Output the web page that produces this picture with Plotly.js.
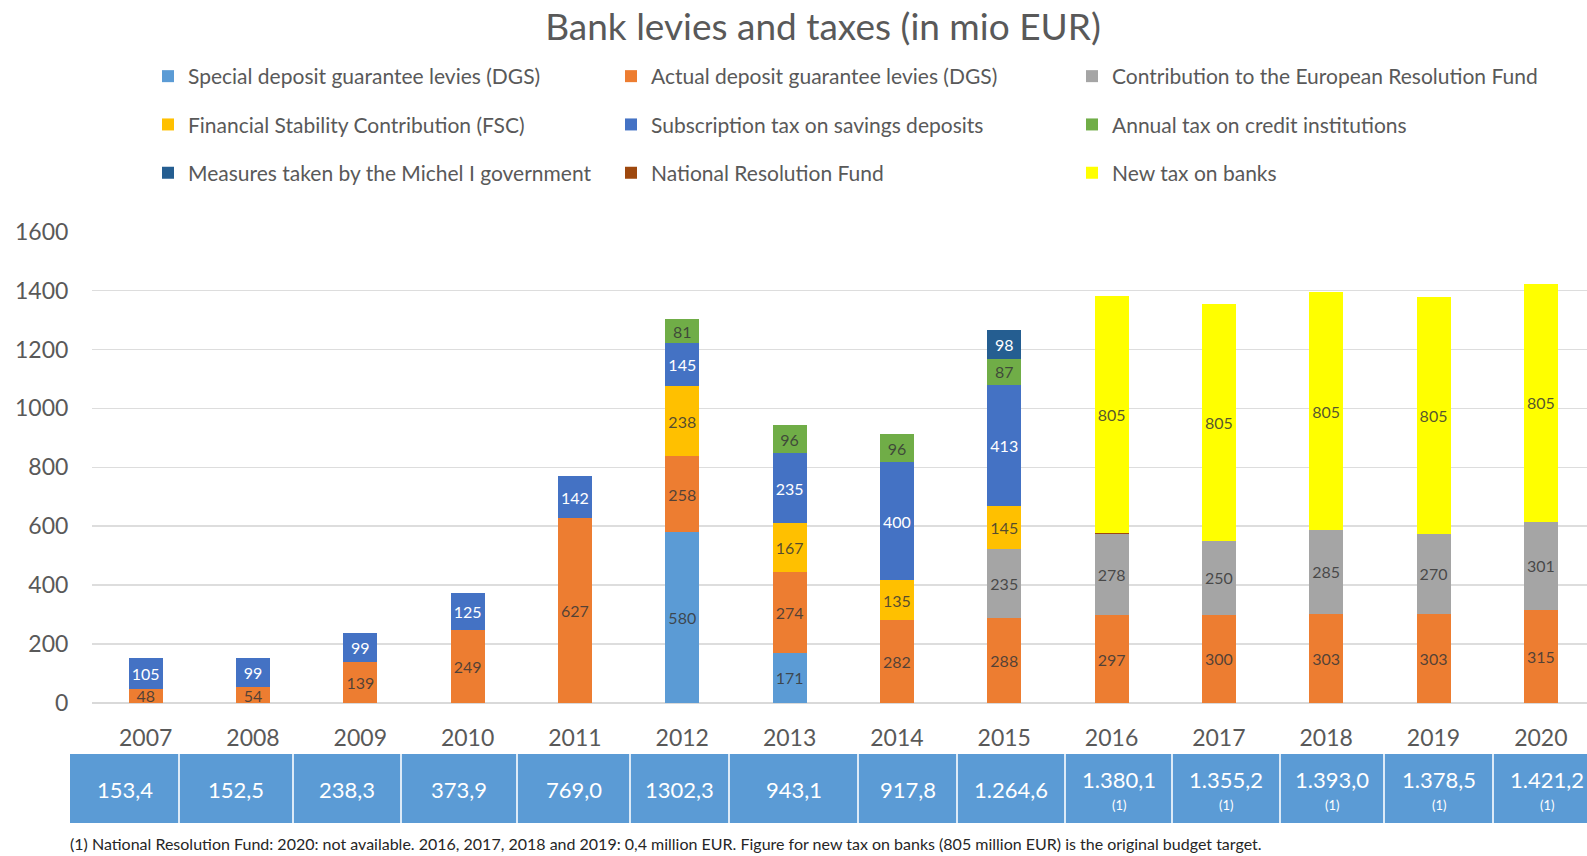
<!DOCTYPE html>
<html>
<head>
<meta charset="utf-8">
<script src="https://cdn.plot.ly/plotly-3.0.1.min.js"></script>
<style>html,body{margin:0;padding:0;background:#fff;}#chart{width:1587px;height:856px;}</style>
</head>
<body>
<div id="chart"></div>
<script>
// ---- data ----
const years = ['2007','2008','2009','2010','2011','2012','2013','2014','2015','2016','2017','2018','2019','2020'];
const specialDGS   = [null,null,null,null,null,580,171,null,null,null,null,null,null,null];
const actualDGS    = [48,54,139,249,627,258,274,282,288,297,300,303,303,315];
const europeanRF   = [null,null,null,null,null,null,null,null,235,278,250,285,270,301];
const fsc          = [null,null,null,null,null,238,167,135,145,null,null,null,null,null];
const subscription = [105,99,99,125,142,145,235,400,413,null,null,null,null,null];
const annualTax    = [null,null,null,null,null,81,96,96,87,null,null,null,null,null];
const michelI      = [null,null,null,null,null,null,null,null,98,null,null,null,null,null];
const nationalRF   = [null,null,null,null,null,null,null,null,null,0.4,0.4,0.4,0.4,null];
const newTax       = [null,null,null,null,null,null,null,null,null,805,805,805,805,805];
const totals       = ['153,4','152,5','238,3','373,9','769,0','1302,3','943,1','917,8','1.264,6','1.380,1','1.355,2','1.393,0','1.378,5','1.421,2'];
const totalNotes   = ['','','','','','','','','','(1)','(1)','(1)','(1)','(1)'];
const seriesNames  = ['Special deposit guarantee levies (DGS)','Actual deposit guarantee levies (DGS)','Contribution to the European Resolution Fund',
                      'Financial Stability Contribution (FSC)','Subscription tax on savings deposits','Annual tax on credit institutions',
                      'Measures taken by the Michel I government','National Resolution Fund','New tax on banks'];
const footnote = '(1) National Resolution Fund: 2020: not available. 2016, 2017, 2018 and 2019: 0,4 million EUR. Figure for new tax on banks (805 million EUR) is the original budget target.';

// ---- styling ----
const FONT = 'Lato, "Open Sans", sans-serif';
const GREY = '#595959';
const DARK = 'rgba(55,55,55,0.85)';
const series = [specialDGS, actualDGS, europeanRF, fsc, subscription, annualTax, michelI, nationalRF, newTax];
const colors = ['#5B9BD5','#ED7D31','#A5A5A5','#FFC000','#4472C4','#70AD47','#255E91','#9E480E','#FFFF00'];
const labelColors = [DARK, DARK, DARK, DARK, '#FFFFFF', DARK, '#FFFFFF', DARK, DARK];
// legend columns (three legends, one per column, three rows each)
const legendIds = ['legend','legend2','legend3','legend','legend2','legend3','legend','legend2','legend3'];

const traces = series.map((vals, i) => ({
  type: 'bar',
  name: seriesNames[i],
  x: years,
  y: vals,
  marker: {color: colors[i], line: {width: 0}},
  texttemplate: i === 7 ? '' : '%{y}',
  textposition: i === 7 ? 'none' : 'inside',
  insidetextanchor: 'middle',
  constraintext: 'none',
  textangle: 0,
  textfont: {family: FONT, size: 16, color: labelColors[i]},
  legend: legendIds[i],
  legendgroup: 'g' + i,
  hoverinfo: 'name+y'
}));

// plot-area geometry (px)
const W = 1587, H = 856, L = 92, R = 0, T = 231, B = 153;
const PW = W - L - R, PH = H - T - B;
const px2x = p => (p - L) / PW;
const px2y = p => (H - B - p) / PH;

// table geometry
const cellEdges = [70, 179, 293, 401, 517, 630, 729, 858, 957, 1065, 1172, 1280, 1384, 1493, 1600];
const tableTop = 754, tableBottom = 823;

const shapes = [{
  type: 'rect', xref: 'paper', yref: 'paper',
  x0: px2x(cellEdges[0]), x1: px2x(cellEdges[cellEdges.length-1]),
  y0: px2y(tableBottom), y1: px2y(tableTop),
  fillcolor: '#5B9BD5', line: {width: 0}, layer: 'above'
}];
for (let i = 1; i < cellEdges.length - 1; i++) {
  shapes.push({type: 'line', xref: 'paper', yref: 'paper',
    x0: px2x(cellEdges[i]), x1: px2x(cellEdges[i]),
    y0: px2y(tableBottom), y1: px2y(tableTop),
    line: {color: '#DCEAF7', width: 2}, layer: 'above'});
}

const annotations = [];
totals.forEach((t, i) => {
  const cx = (cellEdges[i] + cellEdges[i+1]) / 2;
  const hasNote = totalNotes[i] !== '';
  annotations.push({xref: 'paper', yref: 'paper', x: px2x(cx), y: px2y(hasNote ? 779 : 789),
    text: t, showarrow: false, xanchor: 'center', yanchor: 'middle',
    font: {family: FONT, size: 22, color: '#FFFFFF'}});
  if (hasNote) {
    annotations.push({xref: 'paper', yref: 'paper', x: px2x(cx), y: px2y(805),
      text: totalNotes[i], showarrow: false, xanchor: 'center', yanchor: 'middle',
      font: {family: FONT, size: 13, color: '#FFFFFF'}});
  }
});
annotations.push({xref: 'paper', yref: 'paper', x: px2x(68), y: px2y(843),
  text: footnote, showarrow: false, xanchor: 'left', yanchor: 'middle',
  font: {family: FONT, size: 16, color: '#262626'}});

const legendBase = {
  orientation: 'v', xref: 'paper', yref: 'container',
  y: 1 - 56 / H, xanchor: 'left', yanchor: 'top',
  traceorder: 'grouped', tracegroupgap: 18,
  font: {family: FONT, size: 21, color: GREY},
  bgcolor: 'rgba(0,0,0,0)', borderwidth: 0
};

const layout = {
  width: W, height: H,
  margin: {l: L, r: R, t: T, b: B, pad: 0, autoexpand: false},
  paper_bgcolor: '#FFFFFF', plot_bgcolor: '#FFFFFF',
  font: {family: FONT, color: GREY},
  title: {text: 'Bank levies and taxes (in mio EUR)', xref: 'container', yref: 'container',
          x: 823 / W, y: 1 - 27 / H, xanchor: 'center', yanchor: 'middle',
          font: {family: FONT, size: 37, color: GREY}},
  barmode: 'stack',
  bargap: 0.683,
  xaxis: {type: 'category', range: [-0.5, 13.43], showgrid: false, zeroline: false, showline: false,
          ticks: 'outside', ticklen: 14, tickcolor: 'rgba(0,0,0,0)',
          tickfont: {family: FONT, size: 23, color: GREY}, fixedrange: true},
  yaxis: {range: [0, 1602], dtick: 200, tick0: 0, showgrid: true, gridcolor: '#DDDDDD', gridwidth: 1.5,
          zeroline: true, zerolinecolor: '#D9D9D9', zerolinewidth: 1.5, showline: false,
          ticks: 'outside', ticklen: 18, tickcolor: 'rgba(0,0,0,0)',
          tickfont: {family: FONT, size: 23, color: GREY}, fixedrange: true},
  legend:  Object.assign({}, legendBase, {x: px2x(148)}),
  legend2: Object.assign({}, legendBase, {x: px2x(611)}),
  legend3: Object.assign({}, legendBase, {x: px2x(1072)}),
  shapes: shapes,
  annotations: annotations,
  showlegend: true
};

Plotly.newPlot('chart', traces, layout, {displayModeBar: false, staticPlot: true});
</script>
</body>
</html>
